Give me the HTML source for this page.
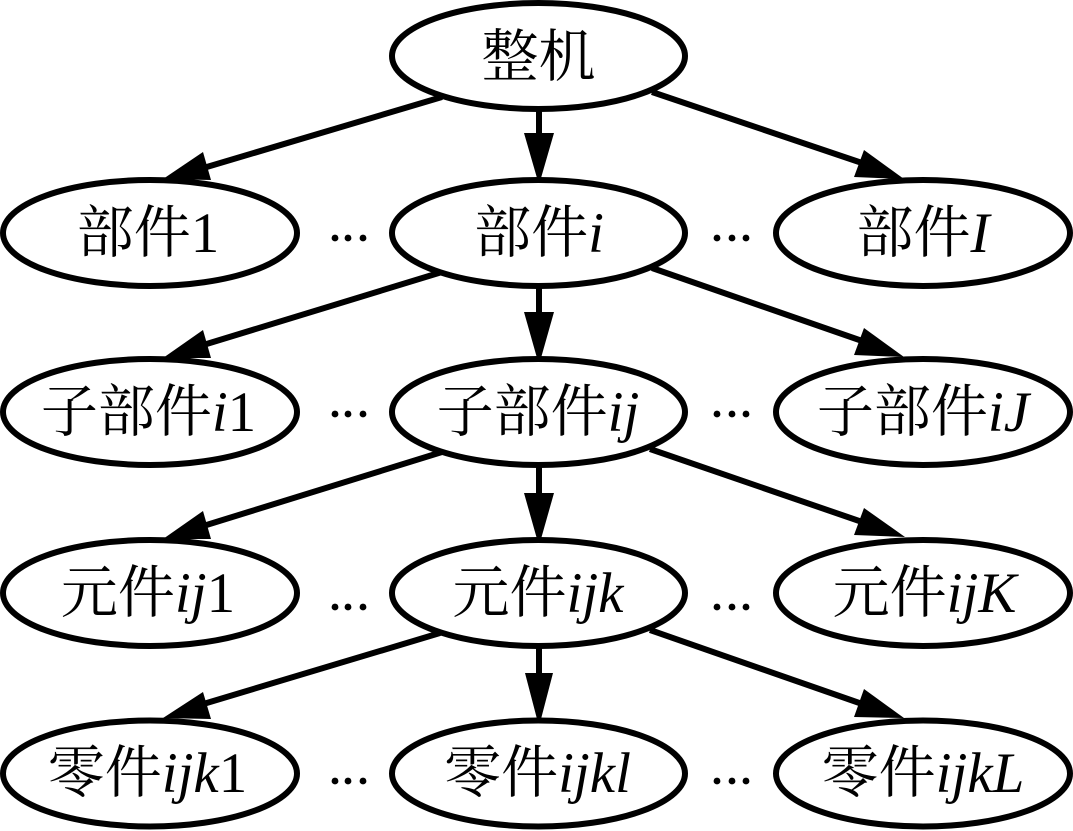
<!DOCTYPE html>
<html><head><meta charset="utf-8">
<style>
html,body{margin:0;padding:0;background:#fff;width:1073px;height:831px;overflow:hidden}
svg{display:block}
text{font-family:"Liberation Serif","Noto Serif CJK SC",serif;font-size:57px;fill:#000;text-anchor:middle}
tspan.i{font-style:italic}
ellipse{fill:#fff;stroke:#000;stroke-width:6}
line{stroke:#000;stroke-width:6}
polygon{fill:#000}
circle{fill:#000}
</style></head><body>
<svg width="1073" height="831" viewBox="0 0 1073 831" xmlns="http://www.w3.org/2000/svg">
<!-- edges row 1 -->
<line x1="442" y1="97" x2="200" y2="169"/><polygon points="163,179 203,152 211,180"/>
<line x1="539" y1="108" x2="539" y2="135"/><polygon points="524,133 554,133 541,178 537,178"/>
<line x1="652" y1="92" x2="868" y2="165"/><polygon points="904,179 854,177 864,150"/>
<!-- edges row 2 -->
<line x1="442" y1="272" x2="200" y2="346"/><polygon points="163,358 203,330 211,358"/>
<line x1="539" y1="285" x2="539" y2="315"/><polygon points="524,312 554,312 541,358 537,358"/>
<line x1="652" y1="268" x2="868" y2="343"/><polygon points="904,357 854,355 864,328"/>
<!-- edges row 3 -->
<line x1="442" y1="452" x2="200" y2="527"/><polygon points="163,539 203,511 211,539"/>
<line x1="539" y1="465" x2="539" y2="495"/><polygon points="524,493 554,493 541,539 537,539"/>
<line x1="650" y1="449" x2="868" y2="524"/><polygon points="905,537 854,535 864,508"/>
<!-- edges row 4 -->
<line x1="440" y1="633" x2="200" y2="705"/><polygon points="163,718 203,692 211,719"/>
<line x1="539" y1="648" x2="539" y2="675"/><polygon points="525,673 553,673 541,719 537,719"/>
<line x1="650" y1="630" x2="868" y2="706"/><polygon points="904,718 854,717 864,689"/>
<!-- nodes -->
<ellipse cx="538.5" cy="56" rx="146.5" ry="53"/>
<ellipse cx="150" cy="233" rx="147" ry="53"/>
<ellipse cx="538.5" cy="233" rx="146.5" ry="53"/>
<ellipse cx="923" cy="233" rx="147" ry="53"/>
<ellipse cx="150" cy="412" rx="147" ry="53"/>
<ellipse cx="538.5" cy="412" rx="146.5" ry="53"/>
<ellipse cx="923" cy="412" rx="147" ry="53"/>
<ellipse cx="150" cy="593" rx="147" ry="53"/>
<ellipse cx="538.5" cy="593" rx="146.5" ry="53"/>
<ellipse cx="923" cy="593" rx="147" ry="53"/>
<ellipse cx="150" cy="773.5" rx="147" ry="53"/>
<ellipse cx="538.5" cy="773.5" rx="146.5" ry="53"/>
<ellipse cx="923" cy="773.5" rx="147" ry="53"/>
<!-- labels -->
<text x="538.5" y="76">整机</text>
<text x="148" y="252">部件1</text>
<text x="539" y="252">部件<tspan class="i">i</tspan></text>
<text x="923" y="252">部件<tspan class="i">I</tspan></text>
<text x="148.5" y="431">子部件<tspan class="i">i</tspan>1</text>
<text x="538" y="431">子部件<tspan class="i">ij</tspan></text>
<text x="923" y="431">子部件<tspan class="i">iJ</tspan></text>
<text x="148" y="612">元件<tspan class="i">ij</tspan>1</text>
<text x="538" y="612">元件<tspan class="i">ijk</tspan></text>
<text x="924.5" y="612">元件<tspan class="i">ijK</tspan></text>
<text x="147.5" y="792">零件<tspan class="i">ijk</tspan>1</text>
<text x="537.5" y="792">零件<tspan class="i">ijkl</tspan></text>
<text x="923" y="792">零件<tspan class="i">ijkL</tspan></text>
<!-- ellipsis dots -->
<g>
<circle cx="335" cy="238" r="3.4"/><circle cx="348" cy="238" r="3.4"/><circle cx="363" cy="238" r="3.4"/>
<circle cx="717" cy="238" r="3.4"/><circle cx="732" cy="238" r="3.4"/><circle cx="746" cy="238" r="3.4"/>
<circle cx="335" cy="414" r="3.4"/><circle cx="348" cy="414" r="3.4"/><circle cx="363" cy="414" r="3.4"/>
<circle cx="717" cy="414" r="3.4"/><circle cx="732" cy="414" r="3.4"/><circle cx="746" cy="414" r="3.4"/>
<circle cx="335" cy="607" r="3.4"/><circle cx="348" cy="607" r="3.4"/><circle cx="363" cy="607" r="3.4"/>
<circle cx="717" cy="607" r="3.4"/><circle cx="732" cy="607" r="3.4"/><circle cx="746" cy="607" r="3.4"/>
<circle cx="335" cy="781" r="3.4"/><circle cx="348" cy="781" r="3.4"/><circle cx="363" cy="781" r="3.4"/>
<circle cx="717" cy="781" r="3.4"/><circle cx="732" cy="781" r="3.4"/><circle cx="746" cy="781" r="3.4"/>
</g>
</svg>
</body></html>
